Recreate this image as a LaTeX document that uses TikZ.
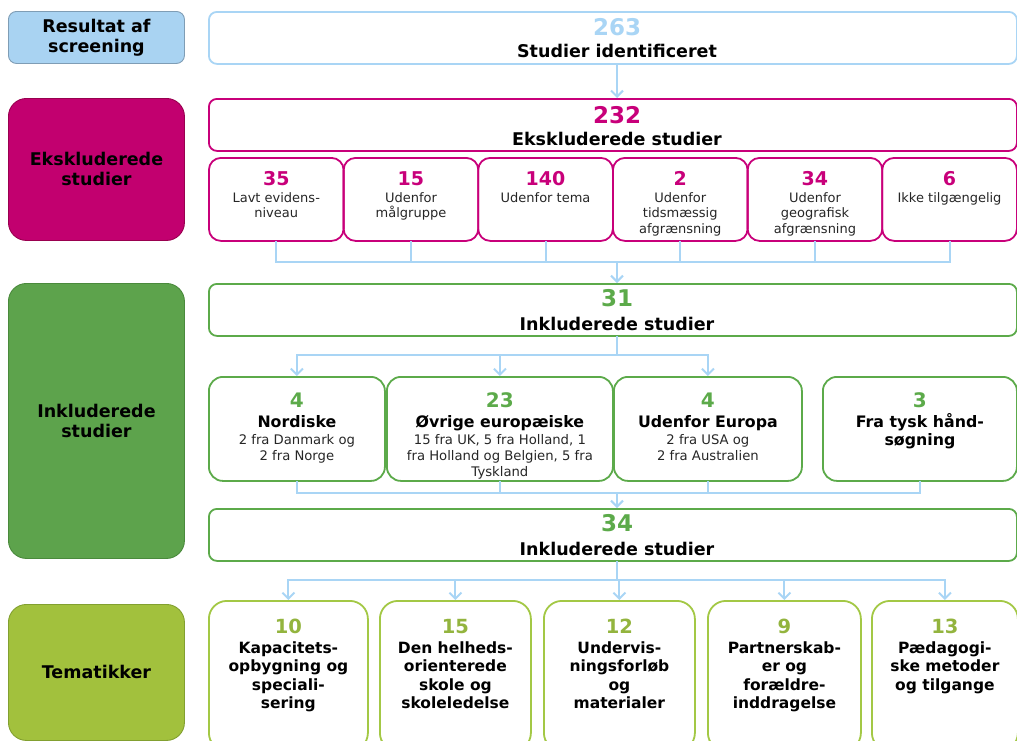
\documentclass[tikz,border=0pt]{standalone}
\usepackage{fontspec}
\setmainfont{DejaVu Sans}
\usetikzlibrary{arrows.meta,calc}
\definecolor{lblue}{HTML}{A9D5F5}
\definecolor{lbluefill}{HTML}{A9D3F2}
\definecolor{lblueedge}{HTML}{7F9DB5}
\definecolor{mag}{HTML}{C8007A}
\definecolor{magfill}{HTML}{C2006F}
\definecolor{magedge}{HTML}{99004F}
\definecolor{grn}{HTML}{5CAA4A}
\definecolor{grnfill}{HTML}{5DA34C}
\definecolor{grnedge}{HTML}{4A8A3C}
\definecolor{ylg}{HTML}{A3C845}
\definecolor{ylgfill}{HTML}{A2C13D}
\definecolor{ylgedge}{HTML}{82A030}
\newcommand\fsz[2]{\fontsize{#1}{#2}\selectfont}
\begin{document}
\begin{tikzpicture}[x=1pt,y=-1pt,
  side/.style={rectangle, rounded corners=18pt, line width=0.9pt, anchor=north west, inner sep=0pt, minimum width=176pt, align=center, font=\bfseries\fsz{17.5}{20}},
  wide/.style={rectangle, rounded corners=8pt, line width=1.8pt, fill=white, anchor=north west, inner sep=0pt, minimum width=808pt, minimum height=52pt},
  sub/.style={rectangle, rounded corners=12pt, line width=1.8pt, draw=mag, anchor=north west, inner sep=0pt, minimum width=134.7pt, minimum height=83pt},
  inc/.style={rectangle, rounded corners=14pt, line width=1.8pt, draw=grn, anchor=north west, inner sep=0pt, minimum height=104pt},
  tem/.style={rectangle, rounded corners=18pt, line width=1.8pt, draw=ylg, anchor=north west, inner sep=0pt, minimum height=150pt},
  bignum/.style={anchor=base, inner sep=0pt, font=\bfseries\fsz{23}{26}},
  biglab/.style={anchor=base, inner sep=0pt, font=\bfseries\fsz{17.5}{20}},
  subnum/.style={anchor=base, inner sep=0pt, font=\bfseries\fsz{19}{22}, text=mag},
  subtxt/.style={anchor=north, inner sep=0pt, align=center, font=\fsz{13}{15.5}, text=black!85},
  incnum/.style={anchor=base, inner sep=0pt, font=\bfseries\fsz{20}{22}, text=grn},
  inctit/.style={anchor=north, inner sep=0pt, align=center, font=\bfseries\fsz{15.8}{18}},
  incdet/.style={anchor=north, inner sep=0pt, align=center, font=\fsz{13.2}{16}, text=black!85},
  temnum/.style={anchor=base, inner sep=0pt, font=\bfseries\fsz{19.5}{22}, text=ylg!90!black},
  temtxt/.style={anchor=north, inner sep=0pt, align=center, font=\bfseries\fsz{15.5}{18.5}},
  conn/.style={draw=lblue, line width=2pt, line cap=rect},
  arr/.style={draw=lblue, line width=2pt, -{Straight Barb[length=6pt,width=12pt]}}
]
\useasboundingbox (0,0) rectangle (1017,740);

% left column
\node[side, fill=lbluefill, draw=lblueedge, minimum height=52pt, rounded corners=8pt] (lres) at (8,11) {Resultat af\\screening};
\node[side, fill=magfill, draw=magedge, minimum height=142pt] (leks) at (8,98) {Ekskluderede\\studier};
\node[side, fill=grnfill, draw=grnedge, minimum height=275pt] (link) at (8,283) {Inkluderede\\studier};
\node[side, fill=ylgfill, draw=ylgedge, minimum height=136pt] (ltem) at (8,604) {Tematikker};

% wide boxes
\node[wide, draw=lblue] (b263) at (208,11) {};
\node[bignum, text=lblue] (n263) at (617,35) {263};
\node[biglab] (l263) at (617,57) {Studier identificeret};

\node[wide, draw=mag] (b232) at (208,98) {};
\node[bignum, text=mag] (n232) at (617,123) {232};
\node[biglab] (l232) at (617,145) {Ekskluderede studier};

\node[wide, draw=grn] (b31) at (208,283) {};
\node[bignum, text=grn] (n31) at (617,306) {31};
\node[biglab] (l31) at (617,330) {Inkluderede studier};

\node[wide, draw=grn] (b34) at (208,508) {};
\node[bignum, text=grn] (n34) at (617,531) {34};
\node[biglab] (l34) at (617,555) {Inkluderede studier};

% excluded sub boxes
\node[sub] (s1) at (208,157) {};
\node[sub] (s2) at (342.7,157) {};
\node[sub] (s3) at (477.3,157) {};
\node[sub] (s4) at (612,157) {};
\node[sub] (s5) at (746.7,157) {};
\node[sub] (s6) at (881.3,157) {};
\node[subnum] (s1n) at ($(s1.north)+(0,28)$) {35};
\node[subnum] (s2n) at ($(s2.north)+(0,28)$) {15};
\node[subnum] (s3n) at ($(s3.north)+(0,28)$) {140};
\node[subnum] (s4n) at ($(s4.north)+(0,28)$) {2};
\node[subnum] (s5n) at ($(s5.north)+(0,28)$) {34};
\node[subnum] (s6n) at ($(s6.north)+(0,28)$) {6};
\node[subtxt] (s1t) at ($(s1.north)+(0,35)$) {Lavt evidens-\\niveau};
\node[subtxt] (s2t) at ($(s2.north)+(0,35)$) {Udenfor\\målgruppe};
\node[subtxt] (s3t) at ($(s3.north)+(0,35)$) {Udenfor tema};
\node[subtxt] (s4t) at ($(s4.north)+(0,35)$) {Udenfor\\tidsmæssig\\afgrænsning};
\node[subtxt] (s5t) at ($(s5.north)+(0,35)$) {Udenfor\\geografisk\\afgrænsning};
\node[subtxt] (s6t) at ($(s6.north)+(0,35)$) {Ikke tilgængelig};

% included boxes
\node[inc, minimum width=176pt] (c1) at (208,376) {};
\node[inc, minimum width=226pt] (c2) at (386,376) {};
\node[inc, minimum width=188pt] (c3) at (613,376) {};
\node[inc, minimum width=194pt] (c4) at (822,376) {};
\node[incnum] (c1n) at ($(c1.north)+(0,31)$) {4};
\node[incnum] (c2n) at ($(c2.north)+(0,31)$) {23};
\node[incnum] (c3n) at ($(c3.north)+(0,31)$) {4};
\node[incnum] (c4n) at ($(c4.north)+(0,31)$) {3};
\node[inctit] (c1t) at ($(c1.north)+(0,39.5)$) {Nordiske};
\node[inctit] (c2t) at ($(c2.north)+(0,39.5)$) {Øvrige europæiske};
\node[inctit] (c3t) at ($(c3.north)+(0,39.5)$) {Udenfor Europa};
\node[inctit] (c4t) at ($(c4.north)+(0,37)$) {Fra tysk hånd-\\søgning};
\node[incdet] (c1d) at ($(c1.north)+(0,58.5)$) {2 fra Danmark og\\2 fra Norge};
\node[incdet] (c2d) at ($(c2.north)+(0,58.5)$) {15 fra UK, 5 fra Holland, 1\\fra Holland og Belgien, 5 fra\\Tyskland};
\node[incdet] (c3d) at ($(c3.north)+(0,58.5)$) {2 fra USA og\\2 fra Australien};

% thematic boxes
\node[tem, minimum width=159pt] (t1) at (208,600) {};
\node[tem, minimum width=151pt] (t2) at (379,600) {};
\node[tem, minimum width=151pt] (t3) at (543,600) {};
\node[tem, minimum width=153pt] (t4) at (707,600) {};
\node[tem, minimum width=146pt] (t5) at (871,600) {};
\node[temnum] (t1n) at ($(t1.north)+(0,33)$) {10};
\node[temnum] (t2n) at ($(t2.north)+(0,33)$) {15};
\node[temnum] (t3n) at ($(t3.north)+(0,33)$) {12};
\node[temnum] (t4n) at ($(t4.north)+(0,33)$) {9};
\node[temnum] (t5n) at ($(t5.north)+(0,33)$) {13};
\node[temtxt] (t1t) at ($(t1.north)+(0,41.5)$) {Kapacitets-\\opbygning og\\speciali-\\sering};
\node[temtxt] (t2t) at ($(t2.north)+(0,41.5)$) {Den helheds-\\orienterede\\skole og\\skoleledelse};
\node[temtxt] (t3t) at ($(t3.north)+(0,41.5)$) {Undervis-\\ningsforløb\\og\\materialer};
\node[temtxt] (t4t) at ($(t4.north)+(0,41.5)$) {Partnerskab-\\er og\\forældre-\\inddragelse};
\node[temtxt] (t5t) at ($(t5.north)+(0,41.5)$) {Pædagogi-\\ske metoder\\og tilgange};

% connectors
\coordinate (hub) at (617,0);
\draw[arr] (b263.south -| hub) -- (b232.north -| hub);

\coordinate (j1) at (617,262);
\foreach \s in {s1,s2,s3,s4,s5,s6} \draw[conn] (\s.south) -- (\s.south |- j1);
\draw[conn] (s1.south |- j1) -- (s6.south |- j1);
\draw[arr] (j1) -- (b31.north -| j1);

\coordinate (j2) at (617,355);
\draw[conn] (b31.south -| j2) -- (j2);
\draw[conn] (c1.north |- j2) -- (c3.north |- j2);
\foreach \c in {c1,c2,c3} \draw[arr] (\c.north |- j2) -- (\c.north);

\coordinate (j3) at (617,493);
\foreach \c in {c1,c2,c3,c4} \draw[conn] (\c.south) -- (\c.south |- j3);
\draw[conn] (c1.south |- j3) -- (c4.south |- j3);
\draw[arr] (j3) -- (b34.north -| j3);

\coordinate (j4) at (617,580);
\draw[conn] (b34.south -| j4) -- (j4);
\draw[conn] (t1.north |- j4) -- (t5.north |- j4);
\foreach \t in {t1,t2,t3,t4,t5} \draw[arr] (\t.north |- j4) -- (\t.north);
\end{tikzpicture}
\end{document}
